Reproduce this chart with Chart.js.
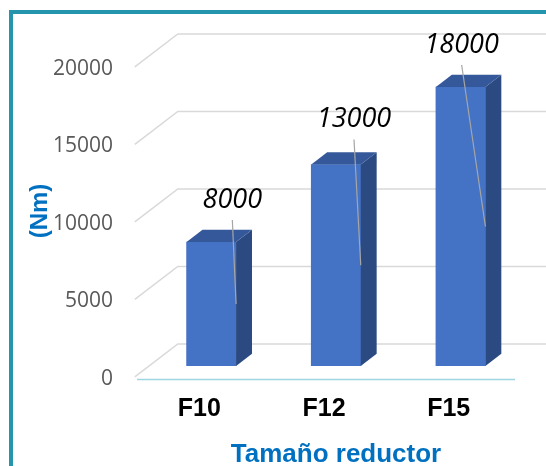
<!DOCTYPE html>
<html>
<head>
<meta charset="utf-8">
<script src="https://cdn.jsdelivr.net/npm/chart.js@4/dist/chart.umd.min.js"></script>
<style>
  html, body { margin: 0; padding: 0; background: #ffffff; overflow: hidden; width: 546px; height: 466px; }
  #frame { position: absolute; left: 9px; top: 10px; width: 700px; height: 700px;
           border-left: 4px solid #2594AD; border-top: 4px solid #2594AD; }
  #wrap { position: absolute; left: 0; top: 0; width: 546px; height: 466px; }
</style>
</head>
<body>
<div id="frame"></div>
<div id="wrap"><canvas id="c" width="546" height="466"></canvas></div>
<script>
// Reducer sizes and their rated torque (Nm)
const categories = ['F10', 'F12', 'F15'];
const torque = [8000, 13000, 18000];
const yTicks = [0, 5000, 10000, 15000, 20000];

// Oblique depth vector of the 3D box (floor front edge to back wall)
const DEPTH = { dx: 43, dy: -33 };

const bar3d = {
  id: 'bar3d',
  beforeDatasetsDraw(chart, args, opts) {
    const { ctx, chartArea, scales: { y } } = chart;
    const fx = chartArea.left + opts.floorFront * DEPTH.dx;
    const fy = opts.floorFront * DEPTH.dy;
    const bx = chartArea.left + opts.floorBack * DEPTH.dx;
    const by = opts.floorBack * DEPTH.dy;
    ctx.save();
    ctx.strokeStyle = opts.gridColor;
    ctx.lineWidth = 1.5;
    y.ticks.forEach(t => {
      const p = y.getPixelForValue(t.value);
      ctx.beginPath();
      ctx.moveTo(fx, p + fy);
      ctx.lineTo(bx, p + by);
      ctx.lineTo(chart.width, p + by);
      ctx.stroke();
    });
    // category axis line along the front of the floor
    const p0 = y.getPixelForValue(0);
    ctx.strokeStyle = opts.axisColor;
    ctx.lineWidth = 1.5;
    ctx.beginPath();
    ctx.moveTo(chartArea.left - 12, p0 + 13.5);
    ctx.lineTo(chartArea.right - 8, p0 + 13.5);
    ctx.stroke();
    ctx.restore();
  },
  afterDatasetsDraw(chart, args, opts) {
    const { ctx } = chart;
    const meta = chart.getDatasetMeta(0);
    const ddx = opts.barDepth * DEPTH.dx;
    const ddy = opts.barDepth * DEPTH.dy;
    ctx.save();
    meta.data.forEach(bar => {
      const { x, y, base, width } = bar.getProps(['x', 'y', 'base', 'width'], true);
      const l = x - width / 2, r = x + width / 2;
      ctx.fillStyle = opts.sideColor;
      ctx.beginPath();
      ctx.moveTo(r, y); ctx.lineTo(r + ddx, y + ddy);
      ctx.lineTo(r + ddx, base + ddy); ctx.lineTo(r, base);
      ctx.closePath(); ctx.fill();
      ctx.fillStyle = opts.topColor;
      ctx.beginPath();
      ctx.moveTo(l, y); ctx.lineTo(l + ddx, y + ddy);
      ctx.lineTo(r + ddx, y + ddy); ctx.lineTo(r, y);
      ctx.closePath(); ctx.fill();
    });
    // value labels, each tied to the middle of its bar by a leader line
    const values = chart.data.datasets[0].data;
    meta.data.forEach((bar, i) => {
      const { x, y, base, width } = bar.getProps(['x', 'y', 'base', 'width'], true);
      const r = x + width / 2;
      const lx = x + opts.labelShift[i][0];
      const ly = y + opts.labelShift[i][1];
      ctx.strokeStyle = opts.leaderColor;
      ctx.lineWidth = 1.2;
      ctx.beginPath();
      ctx.moveTo(lx, ly + 21);
      ctx.lineTo(r, (y + base) / 2);
      ctx.stroke();
      ctx.fillStyle = '#000000';
      ctx.font = 'italic 27px "Open Sans"';
      ctx.textAlign = 'center';
      ctx.textBaseline = 'middle';
      ctx.fillText(String(values[i]), lx, ly + 1);
    });
    ctx.restore();
  }
};

new Chart(document.getElementById('c'), {
  type: 'bar',
  data: {
    labels: categories,
    datasets: [{
      data: torque,
      backgroundColor: '#4472C4',
      borderWidth: 0,
      barThickness: 49.5
    }]
  },
  options: {
    responsive: false,
    animation: false,
    layout: { padding: { top: 56, right: 23, left: 0, bottom: 0 } },
    plugins: {
      legend: { display: false },
      tooltip: { enabled: false },
      bar3d: {
        floorFront: -0.33,
        floorBack: 0.67,
        barDepth: 0.37,
        gridColor: '#D9D9D9',
        axisColor: '#9ED6E3',
        sideColor: '#2C4A82',
        topColor: '#34589A',
        leaderColor: '#A6A6A6',
        labelShift: [[21, -43], [18, -46], [1, -43]]
      }
    },
    scales: {
      x: {
        grid: { display: false, drawTicks: false },
        border: { display: false },
        ticks: {
          font: { family: 'Liberation Sans', size: 25, weight: 'bold' },
          color: '#000000',
          padding: 28,
          labelOffset: -12
        },
        title: {
          display: true,
          text: 'Tamaño reductor',
          color: '#0070C0',
          font: { family: 'Liberation Sans', size: 26, weight: 'bold', lineHeight: 1 },
          padding: { top: 0, bottom: -2 }
        },
        afterFit: s => { s.height = 100; }
      },
      y: {
        min: 0,
        max: 20000,
        grid: { display: false, drawTicks: false },
        border: { display: false },
        afterBuildTicks: s => { s.ticks = yTicks.map(v => ({ value: v })); },
        ticks: {
          font: { family: 'Open Sans', size: 21 },
          color: '#595959',
          padding: 36,
          labelOffset: 13,
          callback: v => String(v)
        },
        title: {
          display: true,
          text: '(Nm)',
          color: '#0070C0',
          font: { family: 'Liberation Sans', size: 24, weight: 'bold' },
          padding: { top: 26, bottom: 0 }
        },
        afterFit: s => { s.width = 149; }
      }
    }
  },
  plugins: [bar3d]
});
</script>
</body>
</html>
